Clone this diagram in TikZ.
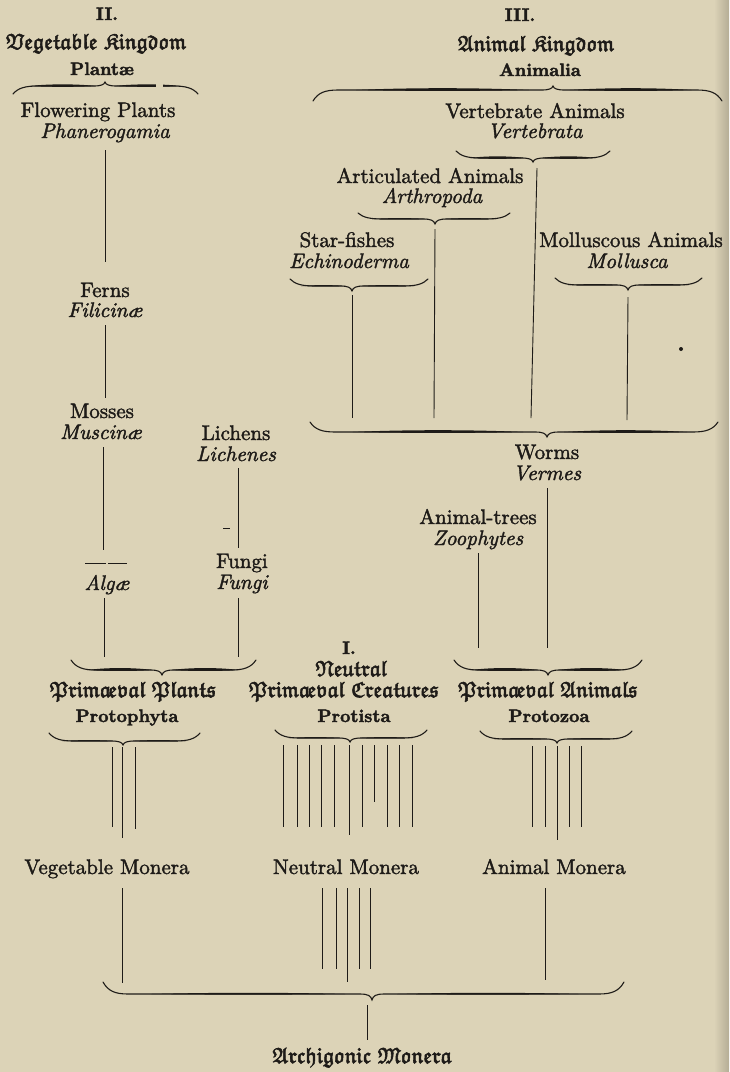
\documentclass[tikz,border=0pt]{standalone}
\usepackage{amssymb}
\definecolor{paper}{RGB}{220,211,183}
\definecolor{ink}{RGB}{30,27,24}
\newcommand\fk[1]{$\mathfrak{#1}$}
\newcommand\aeF{a\kern-.12em e}
\newcommand\FLens[4]{%
 \fill[ink] ({#1},{#3}) .. controls ({#1+0.3*((#2)-(#1))},{#3-(#4)}) and ({#1+0.7*((#2)-(#1))},{#3-(#4)}) .. ({#2},{#3})
   .. controls ({#1+0.7*((#2)-(#1))},{#3+0.5*(#4)}) and ({#1+0.3*((#2)-(#1))},{#3+0.5*(#4)}) .. cycle;}
\newcommand\FBrace[7]{%
 \draw[ink,line width=1.1pt,line cap=round]
  (#1,{#4-(#5)}) .. controls ({#1+5},{#4-0.25*(#5)}) and ({#1+12},{#4}) .. ({#1+25},{#4})
  -- ({#2-12},{#4}) .. controls ({#2-4},{#4}) and ({#2-1},{#4+0.3*(#6)}) .. ({#2},{#4+(#6)})
  .. controls ({#2+1},{#4+0.3*(#6)}) and ({#2+4},{#4}) .. ({#2+12},{#4})
  -- ({#3-25},{#4}) .. controls ({#3-12},{#4}) and ({#3-5},{#4-0.25*(#5)}) .. (#3,{#4-(#5)});
 \FLens{#1+0.18*(#2-#1)}{#2-0.1*(#2-#1)}{#4}{#7}
 \FLens{#2+0.1*(#3-#2)}{#3-0.18*(#3-#2)}{#4}{#7}}
\newcommand\stem[4]{\coordinate (#1t) at #2; \coordinate (#1b) at #3; \draw[conn,#4] (#1t) -- (#1b);}
\newcommand\heavyOn[1]{\special{pdf:literal direct 2 Tr #1 w}}
\newcommand\heavyOff{\special{pdf:literal direct 0 Tr}}
\begin{document}
\begin{tikzpicture}[x=1pt,y=-1pt,
  conn/.style={draw=ink,line width=0.9pt},
  tBase/.style={inner sep=0pt,anchor=base,text=ink},
  tRm/.style={tBase,font=\fontsize{10}{12}\selectfont,scale=2.1,transform shape,
    execute at begin node={\heavyOn{0.18}},execute at end node={\heavyOff}},
  tIt/.style={tRm,font=\fontsize{10}{12}\selectfont\itshape},
  tBf/.style={tBase,font=\fontsize{10}{12}\selectfont\bfseries,scale=1.8,transform shape,
    execute at begin node={\heavyOn{0.22}},execute at end node={\heavyOff}},
  tFr/.style={tBase,font=\fontsize{22}{24}\selectfont,
    execute at begin node={\heavyOn{0.55}},execute at end node={\heavyOff}}]
\useasboundingbox (0,0) rectangle (729,1072);
\fill[paper] (0,0) rectangle (729,1072);
\shade[left color=paper,right color=paper!82!black] (714,0) rectangle (729,1072);

% ---- Vegetable kingdom
\node[tBf] (n2) at (107,20) {II.};
\node[tFr] (vk) at (96,49) {\fk{Vegetable}\ \fk{Kingdom}};
\node[tBf] (plantae) at (102,75) {Plantæ};
\FBrace{13}{105}{198}{86}{-8}{-4}{2.2}
\fill[paper] (156,78) rectangle (163,95);
\node[tRm] (fp) at (98,117) {Flowering Plants};
\node[tIt] (phan) at (105,138) {Phanerogamia};
\stem{a1}{(105,150)}{(105,262)}{}
\node[tRm] (ferns) at (105,297) {Ferns};
\node[tIt] (filic) at (105,317) {Filicinæ};
\stem{a2}{(105,325)}{(105,398)}{}
\node[tRm] (mosses) at (102,418) {Mosses};
\node[tIt] (musc) at (101,439) {Muscinæ};
\stem{a3}{(103,447)}{(103,550)}{}
\coordinate (d1) at (85,563); \coordinate (d2) at (106,563);
\coordinate (d3) at (108,563); \coordinate (d4) at (127,563);
\draw[conn] (d1) -- (d2) (d3) -- (d4);
\node[tIt] (algae) at (107,590) {Algæ};
\stem{a4}{(104,598)}{(104,657)}{}
\node[tRm] (lichens) at (236,440) {Lichens};
\node[tIt] (lichenes) at (236,461) {Lichenes};
\stem{b1}{(238,468)}{(238,548)}{}
\coordinate (d5) at (223,528); \coordinate (d6) at (230,528);
\draw[conn] (d5) -- (d6);
\node[tRm] (fungi) at (242,568) {Fungi};
\node[tIt] (fungiL) at (242,589) {Fungi};
\stem{b2}{(238,598)}{(238,657)}{}
\FBrace{71}{162}{256}{670}{10}{5}{2.6}
\node[tFr] (pp) at (133,697) {\fk{Prim\aeF val}\ \fk{Plants}};
\node[tBf] (protophyta) at (127,722) {Protophyta};
\FBrace{49}{123}{200}{741}{8}{4}{1.2}
\stem{p1}{(112,747)}{(112,827)}{}
\stem{p2}{(122,747)}{(122,838)}{}
\stem{p3}{(135,747)}{(135,829)}{}
\node[tRm] (vm) at (107,874) {Vegetable Monera};
\stem{v1}{(122,888)}{(122,983)}{}

% ---- Animal kingdom
\node[tBf] (n3) at (520,21) {III.};
\node[tFr] (ak) at (536,51) {\fk{Animal}\ \fk{Kingdom}};
\node[tBf] (animalia) at (540,76) {Animalia};
\FBrace{313}{553}{722}{90}{-11}{-4}{2.4}
\node[tRm] (va) at (535,118) {Vertebrate Animals};
\node[tIt] (vert) at (535,138) {Vertebrata};
\FBrace{456}{533}{610}{158}{7}{4}{2.2}
\stem{c1}{(537,168)}{(531,418)}{}
\node[tRm] (aa) at (430,183) {Articulated Animals};
\node[tIt] (arth) at (432,203) {Arthropoda};
\FBrace{358}{435}{510}{219}{6}{5}{1.2}
\stem{c2}{(435,229)}{(434,418)}{}
\node[tRm] (sf) at (347,247) {Star-fishes};
\node[tIt] (echi) at (349,268) {Echinoderma};
\FBrace{290}{352}{428}{286}{7}{5}{1.2}
\stem{c3}{(352,295)}{(352,418)}{}
\node[tRm] (ma) at (631,247) {Molluscous Animals};
\node[tIt] (moll) at (627,268) {Mollusca};
\FBrace{555}{628}{702}{285}{7}{5}{1.2}
\stem{c4}{(628,297)}{(627,420)}{}
\fill[ink] (681,349) circle (2);
\FBrace{310}{547}{718}{432}{10}{5}{2.4}
\node[tRm] (worms) at (547,459) {Worms};
\node[tIt] (vermes) at (547,480) {Vermes};
\stem{c5}{(547,488)}{(547,648)}{}
\node[tRm] (at) at (478,524) {Animal-trees};
\node[tIt] (zoo) at (478,545) {Zoophytes};
\stem{c6}{(478,553)}{(478,648)}{}
\FBrace{454}{548}{642}{670}{10}{5}{2.6}
\node[tFr] (pa) at (548,697) {\fk{Prim\aeF val}\ \fk{Animals}};
\node[tBf] (protozoa) at (549,722) {Protozoa};
\FBrace{480}{557}{632}{739}{8}{4}{1.2}
\foreach \i/\xx in {1/532,2/545,4/569,5/581}{\stem{z\i}{(\xx,746)}{(\xx,827)}{}}
\stem{z3}{(557,746)}{(557,840)}{}
\node[tRm] (am) at (554,874) {Animal Monera};
\stem{m1}{(545,888)}{(545,980)}{}

% ---- Neutral
\node[tBf] (n1) at (349,654) {I.};
\node[tFr] (neutral) at (351,676) {\fk{Neutral}};
\node[tFr] (pc) at (344,697) {\fk{Prim\aeF val}\ \fk{Creatures}};
\node[tBf] (protista) at (354,722) {Protista};
\FBrace{275}{350}{427}{738}{8}{4}{1.2}
\foreach \i/\xx in {1/283,2/297,3/309,4/321,5/334,7/362,8/387,9/399,10/412}{\stem{q\i}{(\xx,745)}{(\xx,827)}{}}
\stem{q6}{(349,745)}{(349,835)}{}
\stem{q11}{(374,745)}{(374,802)}{}
\node[tRm] (nm) at (346,874) {Neutral Monera};
\foreach \i/\xx in {1/322,2/336,4/359,5/370}{\stem{r\i}{(\xx,888)}{(\xx,969)}{}}
\stem{r3}{(347,888)}{(347,982)}{}

% ---- Archigonic
\FBrace{103}{372}{624}{994}{12}{6}{1.6}
\stem{s1}{(367,1005)}{(367,1040)}{}
\node[tFr] (arch) at (362,1063) {\fk{Archigonic}\ \fk{Monera}};
\end{tikzpicture}
\end{document}
